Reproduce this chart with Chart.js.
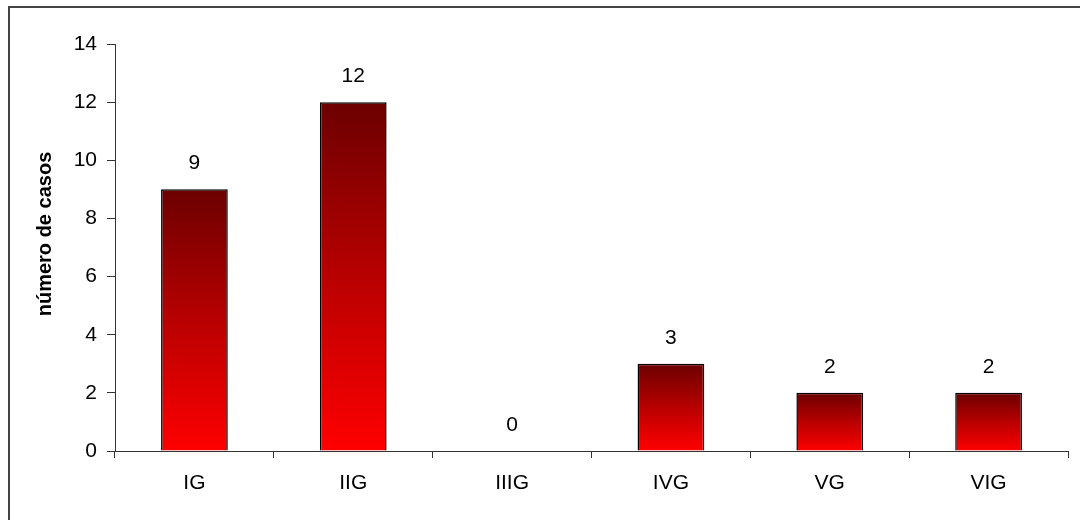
<!DOCTYPE html>
<html>
<head>
<meta charset="utf-8">
<script src="https://cdn.jsdelivr.net/npm/chart.js@4/dist/chart.umd.min.js"></script>
<style>
  html, body { margin: 0; padding: 0; background: #fff; }
  #wrap { width: 1080px; height: 520px; }
</style>
</head>
<body>
<div id="wrap"><canvas id="grados" width="1080" height="520"></canvas></div>
<script>
/* número de casos por grado */
const categorias = ['IG', 'IIG', 'IIIG', 'IVG', 'VG', 'VIG'];
const casos = [9, 12, 0, 3, 2, 2];
const yTicks = [0, 2, 4, 6, 8, 10, 12, 14];
const yTitulo = 'número de casos';

const FONT = "'Liberation Sans', Arial, sans-serif";

// gradient per bar: dark red at top, bright red at base
function barGradient(ctx) {
  const chart = ctx.chart;
  if (!chart.chartArea) return '#c00000';
  const y = chart.scales.y;
  const top = y.getPixelForValue(ctx.raw);
  const base = y.getPixelForValue(0);
  const g = chart.ctx.createLinearGradient(0, top, 0, Math.max(base, top + 1));
  g.addColorStop(0, '#6c0000');
  g.addColorStop(0.5, '#b80000');
  g.addColorStop(1, '#ff0000');
  return g;
}

const framePlugin = {
  id: 'frame',
  beforeDraw(chart) {
    const c = chart.ctx;
    c.save();
    c.fillStyle = '#fff';
    c.fillRect(0, 0, chart.width, chart.height);
    c.strokeStyle = '#444';
    c.lineWidth = 2;
    c.beginPath();
    c.moveTo(9, chart.height + 2);
    c.lineTo(9, 7);
    c.lineTo(chart.width + 2, 7);
    c.stroke();
    c.restore();
  },
  afterDraw(chart) {
    // y axis title
    const c = chart.ctx;
    c.save();
    c.translate(45, 234);
    c.rotate(-Math.PI / 2);
    c.font = 'bold 20px ' + FONT;
    c.fillStyle = '#000';
    c.textAlign = 'center';
    c.textBaseline = 'middle';
    c.fillText(yTitulo, 0, 0);
    c.restore();
  }
};

const valueLabels = {
  id: 'valueLabels',
  afterDatasetsDraw(chart) {
    const c = chart.ctx;
    const meta = chart.getDatasetMeta(0);
    c.save();
    c.font = '21px ' + FONT;
    c.fillStyle = '#000';
    c.textAlign = 'center';
    c.textBaseline = 'middle';
    meta.data.forEach((bar, i) => {
      c.fillText(String(casos[i]), bar.x, bar.y - 26);
    });
    c.restore();
  }
};

new Chart(document.getElementById('grados'), {
  type: 'bar',
  data: {
    labels: categorias,
    datasets: [{
      data: casos,
      backgroundColor: barGradient,
      borderColor: '#000',
      borderWidth: 1.5,
      borderSkipped: 'start',
      categoryPercentage: 1,
      barPercentage: 0.42
    }]
  },
  options: {
    responsive: false,
    devicePixelRatio: 1,
    animation: false,
    layout: { padding: { left: 0, top: 44, right: 12, bottom: 0 } },
    plugins: {
      legend: { display: false },
      tooltip: { enabled: false }
    },
    scales: {
      x: {
        afterFit(s) { s.height = 69; },
        grid: {
          offset: true,
          drawOnChartArea: false,
          drawTicks: true,
          tickLength: 7,
          color: '#333'
        },
        border: { display: true, color: '#333', width: 1 },
        ticks: {
          color: '#000',
          padding: 13,
          font: { family: FONT, size: 21 }
        }
      },
      y: {
        min: 0,
        max: 14,
        afterFit(s) { s.width = 115; },
        afterBuildTicks(s) { s.ticks = yTicks.map(v => ({ value: v })); },
        grid: {
          drawOnChartArea: false,
          drawTicks: true,
          tickLength: 8,
          color: '#333'
        },
        border: { display: true, color: '#333', width: 1 },
        ticks: {
          color: '#000',
          padding: 10,
          font: { family: FONT, size: 21 }
        }
      }
    }
  },
  plugins: [framePlugin, valueLabels]
});
</script>
</body>
</html>
